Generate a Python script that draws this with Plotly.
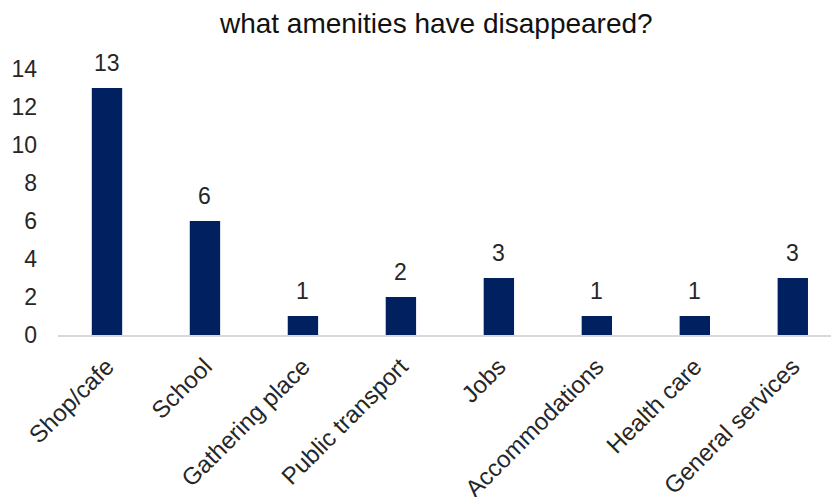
import plotly.graph_objects as go

categories = ["Shop/cafe", "School", "Gathering place", "Public transport",
              "Jobs", "Accommodations", "Health care", "General services"]
counts = [13, 6, 1, 2, 3, 1, 1, 3]
y_ticks = [0, 2, 4, 6, 8, 10, 12, 14]

font_family = "Liberation Sans, Arial, sans-serif"
text_color = "#262626"

fig = go.Figure(
    go.Bar(
        x=categories,
        y=counts,
        width=0.31,
        marker=dict(color="#002060", line=dict(width=0)),
        cliponaxis=False,
    )
)

# value labels floating above each bar
for cat, val in zip(categories, counts):
    fig.add_annotation(
        x=cat, y=val, text=str(val),
        showarrow=False, yanchor="bottom", yshift=10,
        font=dict(size=23, color=text_color, family=font_family),
    )

fig.update_layout(
    width=831,
    height=497,
    margin=dict(l=58, r=0, t=69, b=162),
    paper_bgcolor="white",
    plot_bgcolor="white",
    showlegend=False,
    font=dict(family=font_family, color=text_color, size=23),
    title=dict(
        text="what amenities have disappeared?",
        x=0.525,
        xanchor="center",
        y=0.953,
        yanchor="middle",
        font=dict(size=28, color="#111111", family=font_family),
    ),
)

fig.update_xaxes(
    range=[-0.5, 7.39],
    tickangle=-45,
    showline=True,
    linecolor="#d9d9d9",
    linewidth=2,
    ticks="",
    showgrid=False,
    automargin=False,
    ticklabelstandoff=6,
    tickfont=dict(size=24, color=text_color),
)

fig.update_yaxes(
    range=[0, 14],
    tickvals=y_ticks,
    showgrid=False,
    zeroline=False,
    showline=False,
    ticks="",
    automargin=False,
    ticklabelstandoff=20,
    tickfont=dict(size=23, color=text_color),
)

fig.write_html("out.html")
